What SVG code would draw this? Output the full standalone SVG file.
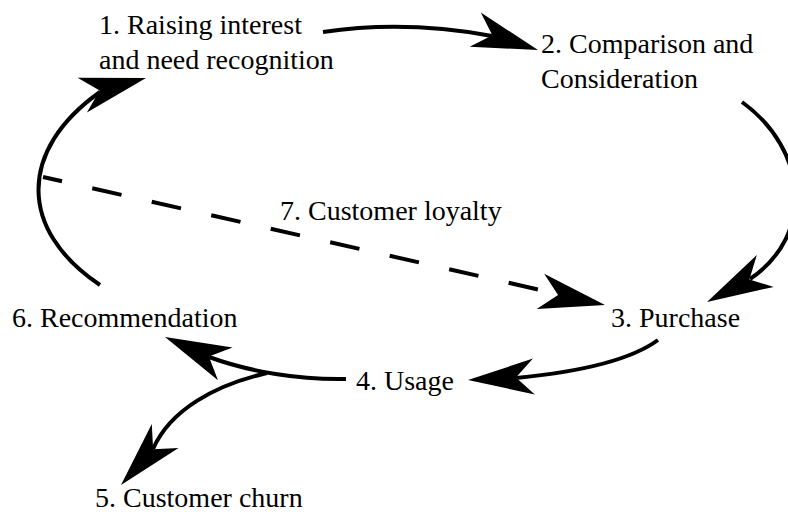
<svg xmlns="http://www.w3.org/2000/svg" xmlns:xlink="http://www.w3.org/1999/xlink" width="788" height="522" viewBox="0 0 788 522">
  <style>
    .con { fill: none; stroke: #000; stroke-width: 4; }
    .dash { stroke-dasharray: 30 31; stroke-dashoffset: 10.5; }
    .head { fill: #000; stroke: none; }
  </style>
  <defs>
    <path id="ah" d="M0,0 L-66,-18 L-48,0 L-66,18 Z"/>
  </defs>
  <rect width="788" height="522" fill="#fff"/>
  <g id="connectors">
    <path class="con" d="M323,32 Q405,20 492,36"/>
    <use href="#ah" xlink:href="#ah" class="head" transform="translate(538,50) rotate(18)"/>
    <path class="con" d="M742,102 C808,150 815,235 750,279"/>
    <use href="#ah" xlink:href="#ah" class="head" transform="translate(707,302) rotate(152)"/>
    <path class="con" d="M658,340 Q620,368 516,378"/>
    <use href="#ah" xlink:href="#ah" class="head" transform="translate(468,380) rotate(177)"/>
    <path class="con" d="M346,379 C300,380 250,372 209,357"/>
    <use href="#ah" xlink:href="#ah" class="head" transform="translate(165,337) rotate(204)"/>
    <path class="con" d="M267,373 C215,385 170,410 153,449"/>
    <use href="#ah" xlink:href="#ah" class="head" transform="translate(121,485) rotate(132)"/>
    <path class="con" d="M100,285 C18,230 18,150 100,92"/>
    <use href="#ah" xlink:href="#ah" class="head" transform="translate(146,78) rotate(-15)"/>
    <path class="con dash" d="M43,177 L558,294"/>
    <use href="#ah" xlink:href="#ah" class="head" transform="translate(605,305) rotate(12)"/>
  </g>
  <g id="node1"><text font-family="Liberation Serif" font-size="28" x="99" y="34">1. Raising interest</text><text font-family="Liberation Serif" font-size="28" x="99" y="69">and need recognition</text></g>
  <g id="node2"><text font-family="Liberation Serif" font-size="28" x="541" y="53">2. Comparison and</text><text font-family="Liberation Serif" font-size="28" x="541" y="88">Consideration</text></g>
  <g id="node3"><text font-family="Liberation Serif" font-size="28" x="611" y="327">3. Purchase</text></g>
  <g id="node4"><text font-family="Liberation Serif" font-size="28" x="356" y="390">4. Usage</text></g>
  <g id="node5"><text font-family="Liberation Serif" font-size="28" x="95" y="507">5. Customer churn</text></g>
  <g id="node6"><text font-family="Liberation Serif" font-size="28" x="12" y="327">6. Recommendation</text></g>
  <g id="node7"><text font-family="Liberation Serif" font-size="28" x="280" y="220">7. Customer loyalty</text></g>
</svg>
